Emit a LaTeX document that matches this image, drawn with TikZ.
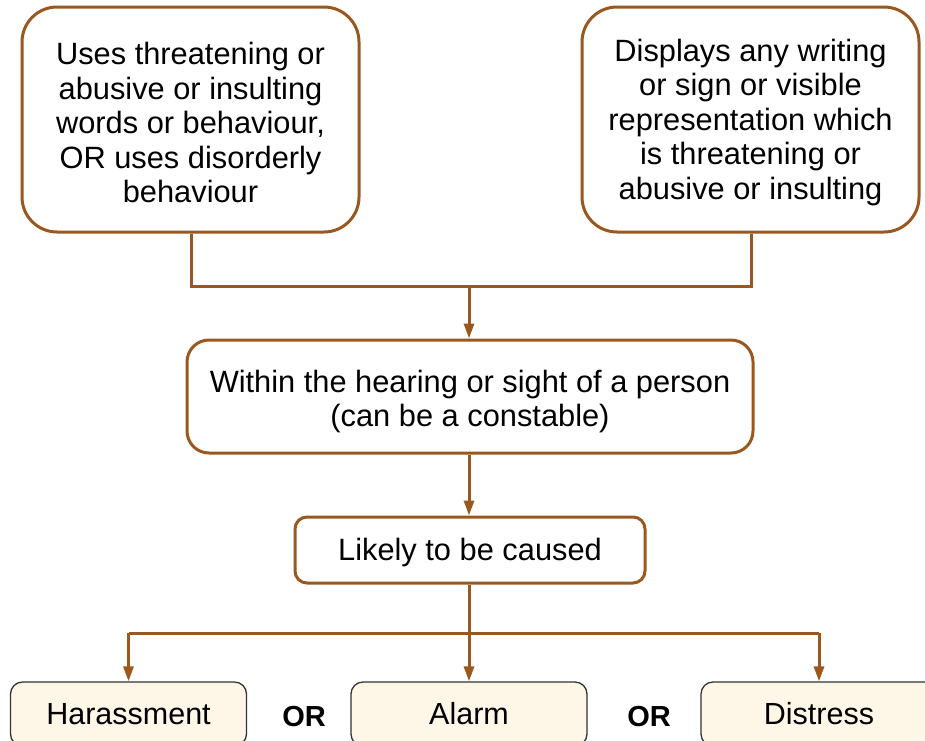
\documentclass[tikz,border=0pt]{standalone}
\usepackage{fontspec}
\setmainfont{Liberation Sans}
\usetikzlibrary{arrows.meta}
\definecolor{brn}{RGB}{155,88,30}
\definecolor{cream}{RGB}{254,246,230}
\definecolor{edge}{RGB}{50,50,50}
\tikzset{
  topbox/.style={draw=brn, line width=3pt, fill=white, rounded corners=35pt,
    minimum width=337pt, minimum height=225pt, inner sep=0pt},
  midbox/.style={draw=brn, line width=3pt, fill=white, inner sep=0pt},
  txt/.style={align=center, inner sep=0pt, font=\fontsize{30.8pt}{34.5pt}\selectfont},
  endbox/.style={draw=edge, line width=1.3pt, fill=cream, rounded corners=12pt,
    minimum width=236pt, minimum height=64pt, inner sep=0pt,
    font=\fontsize{30.5pt}{34pt}\selectfont},
  orlabel/.style={font=\fontsize{29pt}{34pt}\selectfont\bfseries, inner sep=0pt},
  conn/.style={draw=brn, line width=3pt},
  arr/.style={conn, -{Triangle[width=10pt,length=15pt]}},
}
\begin{document}
\begin{tikzpicture}[x=1pt,y=-1pt]
\clip (0,0) rectangle (925,740);
\fill[white] (0,0) rectangle (925,740);

\node[topbox] (tl) at (190.5,119.5) {};
\node[txt] (tlt) at (190.5,122.5) {Uses threatening or\\abusive or insulting\\words or behaviour,\\OR uses disorderly\\behaviour};
\node[topbox] (tr) at (750.5,119.5) {};
\node[txt] (trt) at (750.5,122.5) {Displays any writing\\or sign or visible\\representation which\\is threatening or\\abusive or insulting};

\node[midbox, rounded corners=22pt, minimum width=566pt, minimum height=113pt] (mid) at (470,396.5) {};
\node[txt] (midt) at (470,401.5) {Within the hearing or sight of a person\\(can be a constable)};
\node[midbox, rounded corners=12pt, minimum width=350pt, minimum height=66pt] (lik) at (470,550) {};
\node[txt] (likt) at (470,552.5) {Likely to be caused};

\node[endbox] (har) at (128.5,714) {Harassment};
\node[endbox] (ala) at (469,714) {Alarm};
\node[endbox] (dis) at (819,714) {Distress};

\node[orlabel] (or1) at (304,716) {OR};
\node[orlabel] (or2) at (649,716) {OR};

\coordinate (j1) at (469,286);
\coordinate (j2) at (469,633);

\draw[conn] (tl.south -| 191,0) |- (j1);
\draw[conn] (tr.south -| 751,0) |- (j1);
\draw[arr] (j1) -- (j1 |- mid.north);
\draw[arr] (mid.south -| 469,0) -- (lik.north -| 469,0);
\draw[conn] (lik.south -| 469,0) -- (j2);
\draw[conn] (j2 -| har.north) -- (j2 -| dis.north);
\draw[arr] (j2 -| har.north) -- (har.north);
\draw[arr] (j2) -- (ala.north);
\draw[arr] (j2 -| dis.north) -- (dis.north);
\end{tikzpicture}
\end{document}
